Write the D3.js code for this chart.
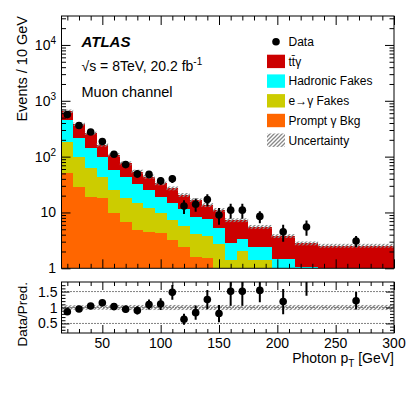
<!DOCTYPE html>
<html>
<head>
<meta charset="utf-8">
<script src="https://cdn.jsdelivr.net/npm/d3@7"></script>
<style>
body { margin: 0; background: #fff; }
svg { font-family: "Liberation Sans", Arial, Helvetica, sans-serif; }
</style>
</head>
<body>
<div id="chart"></div>
<script>
// Photon pT bin edges [GeV], the last bins are wider
var binEdges = [15, 25, 35, 45, 55, 65, 75, 85, 95, 105, 115, 125, 135, 145, 155, 165, 175, 195, 215, 235, 300];

// Stacked prediction, events / 10 GeV
var ttgamma  = [202, 162, 122, 64.5, 49.2, 32.2, 21.6, 18.5, 14.4, 12.3, 9.0, 8.4, 5.95, 5.9, 4.5, 4.0, 3.13, 2.34, 1.73, 2.04];
var hadronic = [263, 121.5, 79, 54.8, 32.5, 25.8, 17.6, 13.3, 9.2, 7.5, 5.9, 4.2, 3.85, 2.5, 1.4, 1.3, 1.0, 0.95, 0.77, 0.2];
var egamma   = [136, 69, 43, 25, 15.6, 11.2, 9.9, 7.5, 5.6, 4.1, 3.3, 2.5, 2.3, 2.7, 1.4, 2.0, 1.4, 0.5, 0.3, 0.3];
var prompt   = [50.4, 28.3, 19.2, 18.0, 9.7, 6.8, 4.9, 4.5, 4.2, 3.2, 2.4, 1.6, 1.5, 0, 0, 0, 0, 0, 0, 0];
// relative uncertainty on the prediction
var predUnc  = [0.07, 0.07, 0.07, 0.07, 0.08, 0.08, 0.08, 0.08, 0.08, 0.08, 0.08, 0.08, 0.08, 0.08, 0.08, 0.08, 0.08, 0.08, 0.08, 0.08];

// Data, events / 10 GeV, with statistical error
var data    = [566, 362, 276, 186, 110, 72, 49, 48, 37, 40, 13, 14, 17, 9, 11, 11, 8.5, 4.5, 5.5, 3.08];
var dataErr = [23.8, 19, 16.6, 13.6, 10.5, 8.5, 7, 6.9, 6.1, 6.3, 3.6, 3.7, 4.1, 3, 3.3, 3.3, 2.06, 1.5, 1.66, 0.69];

// Axis ticks and labels
var xTickLabels = [50, 100, 150, 200, 250, 300];
var yMainTicks = [1, 10, 100, 1000, 10000];
var yRatioTicks = [0.5, 1, 1.5];

var legendNames = ['Data', 'tt\u0304\u03b3', 'Hadronic Fakes', 'e\u2192\u03b3 Fakes', 'Prompt \u03b3 Bkg', 'Uncertainty'];
var layerKeys = ['prompt', 'egamma', 'hadronic', 'ttgamma'];
var colors = { ttgamma: '#cc0000', hadronic: '#00ffff', egamma: '#cccc00', prompt: '#ff6600' };

// Pad geometry
var width = 407,
    height = 395,
    left = 61.5,
    right = 394,
    mainTop = 16,
    mainBottom = 268.3,
    ratioTop = 282,
    ratioBottom = 333;

var rows = binEdges.slice(0, -1).map(function(lo, i) {
    return {
        lo: lo, hi: binEdges[i + 1], mid: (lo + binEdges[i + 1]) / 2,
        ttgamma: ttgamma[i], hadronic: hadronic[i], egamma: egamma[i], prompt: prompt[i],
        data: data[i], err: dataErr[i], unc: predUnc[i]
    };
});
rows.forEach(function(r) { r.total = r.ttgamma + r.hadronic + r.egamma + r.prompt; });

var x = d3.scaleLinear().domain([15, 300]).range([left, right]),
    y = d3.scaleLog().domain([1, 3.3e4]).range([mainBottom, mainTop]).clamp(true),
    yr = d3.scaleLinear().domain([0.2, 1.8]).range([ratioBottom, ratioTop]);

var svg = d3.select('#chart').append('svg')
    .attr('width', width)
    .attr('height', height);

var defs = svg.append('defs');
var hatch = defs.append('pattern')
    .attr('id', 'hatch')
    .attr('patternUnits', 'userSpaceOnUse')
    .attr('width', 4)
    .attr('height', 4);
hatch.append('path')
    .attr('d', 'M-1,1 l2,-2 M0,4 l4,-4 M3,5 l2,-2')
    .attr('stroke', '#888')
    .attr('stroke-width', 1.3);

defs.append('clipPath').attr('id', 'clipMain').append('rect')
    .attr('x', left).attr('y', mainTop).attr('width', right - left).attr('height', mainBottom - mainTop);
defs.append('clipPath').attr('id', 'clipRatio').append('rect')
    .attr('x', left).attr('y', ratioTop).attr('width', right - left).attr('height', ratioBottom - ratioTop);

// ---- main panel ----
var main = svg.append('g').attr('clip-path', 'url(#clipMain)');

var layers = d3.stack().keys(layerKeys)(rows);
layers.forEach(function(layer) {
    main.append('g').selectAll('rect').data(layer).enter()
        .append('rect')
        .attr('x', function(d) { return x(d.data.lo); })
        .attr('width', function(d) { return x(d.data.hi) - x(d.data.lo) + 0.3; })
        .attr('y', function(d) { return y(Math.max(d[1], 0.01)); })
        .attr('height', function(d) { return y(Math.max(d[0], 0.01)) - y(Math.max(d[1], 0.01)); })
        .attr('fill', colors[layer.key])
        .attr('shape-rendering', 'crispEdges');
});

// uncertainty band on top of the stack
main.append('g').selectAll('rect').data(rows).enter()
    .append('rect')
    .attr('x', function(d) { return x(d.lo); })
    .attr('width', function(d) { return x(d.hi) - x(d.lo); })
    .attr('y', function(d) { return y(d.total * (1 + d.unc)); })
    .attr('height', function(d) { return y(d.total * (1 - d.unc)) - y(d.total * (1 + d.unc)); })
    .attr('fill', 'url(#hatch)');

// data points
main.append('g').selectAll('line').data(rows).enter()
    .append('line')
    .attr('x1', function(d) { return x(d.mid); })
    .attr('x2', function(d) { return x(d.mid); })
    .attr('y1', function(d) { return y(d.data + d.err); })
    .attr('y2', function(d) { return y(Math.max(d.data - d.err, 0.01)); })
    .attr('stroke', '#000')
    .attr('stroke-width', 2);
main.append('g').selectAll('circle').data(rows).enter()
    .append('circle')
    .attr('cx', function(d) { return x(d.mid); })
    .attr('cy', function(d) { return y(d.data); })
    .attr('r', 3.8)
    .attr('fill', '#000');

// ---- ratio panel ----
var ratio = svg.append('g').attr('clip-path', 'url(#clipRatio)');

ratio.append('g').selectAll('line').data(yRatioTicks).enter()
    .append('line')
    .attr('x1', left).attr('x2', right)
    .attr('y1', function(d) { return yr(d); })
    .attr('y2', function(d) { return yr(d); })
    .attr('stroke', '#000')
    .attr('stroke-width', 1)
    .attr('stroke-dasharray', '1,2');

ratio.append('g').selectAll('rect').data(rows).enter()
    .append('rect')
    .attr('x', function(d) { return x(d.lo); })
    .attr('width', function(d) { return x(d.hi) - x(d.lo); })
    .attr('y', function(d) { return yr(1 + d.unc); })
    .attr('height', function(d) { return yr(1 - d.unc) - yr(1 + d.unc); })
    .attr('fill', 'url(#hatch)');

ratio.append('g').selectAll('line').data(rows).enter()
    .append('line')
    .attr('x1', function(d) { return x(d.mid); })
    .attr('x2', function(d) { return x(d.mid); })
    .attr('y1', function(d) { return yr((d.data + d.err) / d.total); })
    .attr('y2', function(d) { return yr((d.data - d.err) / d.total); })
    .attr('stroke', '#000')
    .attr('stroke-width', 2);
ratio.append('g').selectAll('circle').data(rows).enter()
    .append('circle')
    .attr('cx', function(d) { return x(d.mid); })
    .attr('cy', function(d) { return yr(d.data / d.total); })
    .attr('r', 3.8)
    .attr('fill', '#000');

// ---- frames and ticks (ROOT style, inside on all sides) ----
function drawTicks(axisFn, scale, values, size, tx, ty) {
    var g = svg.append('g')
        .attr('transform', 'translate(' + tx + ',' + ty + ')')
        .call(axisFn(scale).tickValues(values).tickSize(size).tickFormat(''));
    g.select('.domain').remove();
    g.selectAll('.tick text').remove();
    g.selectAll('.tick line').attr('stroke', '#000');
}

var xMinor = d3.range(20, 300, 10).filter(function(v) { return v % 50 !== 0; });
var yMinor = [];
yMainTicks.forEach(function(d) {
    for (var k = 2; k <= 9; k++) { if (d * k < 3.3e4) { yMinor.push(d * k); } }
});
var yrMinor = d3.range(3, 18).map(function(v) { return v / 10; })
    .filter(function(v) { return Math.abs(v * 2 - Math.round(v * 2)) > 1e-6; });

[[mainTop, mainBottom, y, yMainTicks, yMinor, 9, 4.5],
 [ratioTop, ratioBottom, yr, yRatioTicks, yrMinor, 8, 4]].forEach(function(p) {
    var top = p[0], bottom = p[1], ys = p[2];
    drawTicks(d3.axisBottom, x, xTickLabels, -p[5], 0, bottom);
    drawTicks(d3.axisBottom, x, xMinor, -p[6], 0, bottom);
    drawTicks(d3.axisTop, x, xTickLabels, -p[5], 0, top);
    drawTicks(d3.axisTop, x, xMinor, -p[6], 0, top);
    drawTicks(d3.axisLeft, ys, p[3], -p[5], left, 0);
    drawTicks(d3.axisLeft, ys, p[4], -p[6], left, 0);
    drawTicks(d3.axisRight, ys, p[3], -p[5], right, 0);
    drawTicks(d3.axisRight, ys, p[4], -p[6], right, 0);
    svg.append('rect')
        .attr('x', left).attr('y', top)
        .attr('width', right - left).attr('height', bottom - top)
        .attr('fill', 'none')
        .attr('stroke', '#000')
        .attr('stroke-width', 1);
});

// ---- tick labels ----
var yLabels = svg.append('g').attr('font-size', 14).attr('text-anchor', 'end');
yMainTicks.forEach(function(v) {
    var t = yLabels.append('text').attr('x', 56).attr('y', y(v) + 5);
    if (v < 100) {
        t.text(v);
    } else {
        t.append('tspan').text('10');
        t.append('tspan').attr('dy', -6).attr('font-size', 10).text(Math.round(Math.log10(v)));
    }
});
yRatioTicks.forEach(function(v) {
    yLabels.append('text').attr('x', 57.5).attr('y', yr(v) + 5).text(v);
});

svg.append('g').attr('font-size', 14).attr('text-anchor', 'middle')
    .selectAll('text').data(xTickLabels).enter()
    .append('text')
    .attr('x', function(d) { return x(d); })
    .attr('y', 347.5)
    .text(function(d) { return d; });

// ---- axis titles ----
var xTitle = svg.append('text')
    .attr('x', right).attr('y', 363)
    .attr('font-size', 14).attr('text-anchor', 'end');
xTitle.append('tspan').text('Photon p');
xTitle.append('tspan').attr('dy', 4).attr('font-size', 10).text('T');
xTitle.append('tspan').attr('dy', -4).text(' [GeV]');

svg.append('text')
    .attr('transform', 'translate(27,' + mainTop + ') rotate(-90)')
    .attr('font-size', 14.5).attr('text-anchor', 'end')
    .text('Events / 10 GeV');
svg.append('text')
    .attr('transform', 'translate(27,' + ratioTop + ') rotate(-90)')
    .attr('font-size', 13.5).attr('text-anchor', 'end')
    .text('Data/Pred.');

// ---- labels ----
svg.append('text')
    .attr('x', 81.5).attr('y', 46.5)
    .attr('font-size', 15).attr('font-weight', 'bold').attr('font-style', 'italic')
    .text('ATLAS');
var lumi = svg.append('text').attr('x', 81.5).attr('y', 71).attr('font-size', 14);
lumi.append('tspan').text('\u221as = 8TeV, 20.2 fb');
lumi.append('tspan').attr('dy', -6).attr('font-size', 10).text('-1');
svg.append('text')
    .attr('x', 81.5).attr('y', 96.5)
    .attr('font-size', 14.5)
    .text('Muon channel');

// ---- legend ----
var legendFills = [null, colors.ttgamma, colors.hadronic, colors.egamma, colors.prompt, 'url(#hatch)'];
var legend = svg.append('g').attr('font-size', 12);
legendNames.forEach(function(name, i) {
    var cy = 41.7 + i * 19.7;
    if (i === 0) {
        legend.append('circle').attr('cx', 276).attr('cy', cy).attr('r', 3.8).attr('fill', '#000');
    } else {
        legend.append('rect')
            .attr('x', 267).attr('y', cy - 6.7)
            .attr('width', 18).attr('height', 13.4)
            .attr('fill', legendFills[i]);
    }
    legend.append('text').attr('x', 288.5).attr('y', cy + 4.3).text(name);
});
</script>
</body>
</html>
